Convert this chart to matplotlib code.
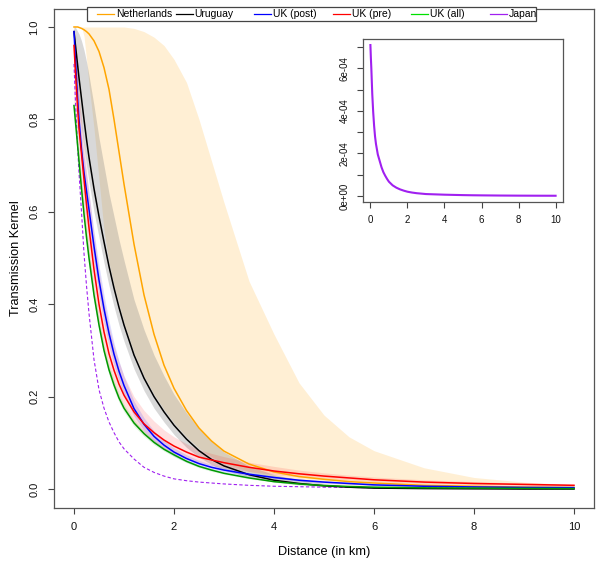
import matplotlib
matplotlib.use("Agg")
import matplotlib.pyplot as plt
from matplotlib.lines import Line2D
from matplotlib.patches import Rectangle

plt.rcParams['font.family'] = ['Liberation Sans', 'DejaVu Sans']

# ---------------- data ----------------
dist = [0, 0.025, 0.05, 0.075, 0.1, 0.15, 0.2, 0.25, 0.3, 0.4, 0.5, 0.6, 0.7, 0.8, 0.9,
        1.0, 1.2, 1.4, 1.6, 1.8, 2.0, 2.25, 2.5, 2.75, 3.0, 3.5, 4.0, 4.5, 5.0, 5.5,
        6.0, 7.0, 8.0, 9.0, 10.0]

netherlands = [1.0, 1.0, 1.0, 1.0, 0.999, 0.997, 0.994, 0.99, 0.985, 0.97, 0.947, 0.912,
               0.865, 0.80, 0.73, 0.66, 0.53, 0.42, 0.335, 0.268, 0.218, 0.17, 0.132,
               0.104, 0.082, 0.054, 0.037, 0.027, 0.021, 0.016, 0.013, 0.008, 0.006,
               0.004, 0.003]
netherlands_lo = [1.0, 1.0, 1.0, 1.0, 1.0, 1.0, 0.98, 0.93, 0.875, 0.78, 0.67, 0.56, 0.49,
                  0.44, 0.40, 0.36, 0.295, 0.245, 0.205, 0.172, 0.143, 0.113, 0.088, 0.07,
                  0.056, 0.038, 0.026, 0.018, 0.013, 0.009, 0.007, 0.004, 0.002, 0.001, 0.001]
netherlands_hi = [1.0, 1.0, 1.0, 1.0, 1.0, 1.0, 1.0, 1.0, 1.0, 1.0, 1.0, 1.0, 1.0, 1.0, 1.0,
                  1.0, 0.997, 0.99, 0.978, 0.96, 0.93, 0.88, 0.80, 0.71, 0.62, 0.45, 0.335,
                  0.23, 0.16, 0.113, 0.083, 0.046, 0.025, 0.015, 0.009]

uruguay = [0.99, 0.965, 0.94, 0.915, 0.89, 0.845, 0.80, 0.757, 0.718, 0.65, 0.59, 0.535,
           0.482, 0.435, 0.393, 0.355, 0.29, 0.24, 0.2, 0.167, 0.138, 0.108, 0.083, 0.064,
           0.05, 0.031, 0.019, 0.012, 0.007, 0.004, 0.002, 0.001, 0.0005, 0.0, 0.0]
uruguay_lo = [0.98, 0.93, 0.89, 0.86, 0.825, 0.78, 0.74, 0.70, 0.665, 0.60, 0.545, 0.49,
              0.44, 0.395, 0.355, 0.32, 0.26, 0.213, 0.175, 0.145, 0.118, 0.09, 0.069, 0.053,
              0.041, 0.025, 0.015, 0.009, 0.005, 0.003, 0.0015, 0.0005, 0.0, 0.0, 0.0]
uruguay_hi = [1.0, 1.0, 0.995, 0.99, 0.985, 0.97, 0.95, 0.925, 0.895, 0.83, 0.76, 0.70,
              0.64, 0.59, 0.54, 0.495, 0.41, 0.345, 0.29, 0.245, 0.205, 0.165, 0.13, 0.103,
              0.08, 0.05, 0.031, 0.02, 0.012, 0.007, 0.004, 0.002, 0.001, 0.0005, 0.0]

uk_post = [0.99, 0.935, 0.885, 0.84, 0.80, 0.735, 0.685, 0.645, 0.605, 0.525, 0.452, 0.39,
           0.337, 0.292, 0.255, 0.224, 0.174, 0.14, 0.114, 0.095, 0.08, 0.066, 0.055, 0.047,
           0.041, 0.032, 0.025, 0.019, 0.015, 0.012, 0.009, 0.006, 0.0045, 0.0035, 0.003]
uk_post_lo = [0.97, 0.905, 0.85, 0.805, 0.765, 0.70, 0.648, 0.605, 0.565, 0.49, 0.42, 0.36,
              0.31, 0.268, 0.233, 0.204, 0.158, 0.126, 0.102, 0.085, 0.071, 0.058, 0.048,
              0.041, 0.036, 0.028, 0.022, 0.017, 0.013, 0.01, 0.008, 0.005, 0.004, 0.003,
              0.0025]
uk_post_hi = [1.0, 0.96, 0.915, 0.872, 0.832, 0.768, 0.72, 0.68, 0.64, 0.558, 0.484, 0.42,
              0.364, 0.316, 0.277, 0.244, 0.19, 0.154, 0.126, 0.105, 0.089, 0.074, 0.062,
              0.053, 0.046, 0.036, 0.028, 0.022, 0.017, 0.014, 0.011, 0.007, 0.0055, 0.0042,
              0.0035]

uk_pre = [0.96, 0.91, 0.865, 0.82, 0.78, 0.725, 0.67, 0.615, 0.565, 0.475, 0.40, 0.34,
          0.293, 0.257, 0.227, 0.203, 0.167, 0.141, 0.122, 0.106, 0.093, 0.08, 0.069, 0.063,
          0.057, 0.047, 0.039, 0.033, 0.028, 0.024, 0.02, 0.015, 0.012, 0.01, 0.008]
uk_pre_lo = [0.85, 0.81, 0.775, 0.74, 0.705, 0.645, 0.59, 0.54, 0.495, 0.415, 0.35, 0.298,
             0.255, 0.222, 0.195, 0.173, 0.14, 0.117, 0.1, 0.087, 0.077, 0.066, 0.057, 0.051,
             0.046, 0.038, 0.031, 0.026, 0.022, 0.019, 0.016, 0.012, 0.0095, 0.008, 0.0065]
uk_pre_hi = [1.0, 0.97, 0.93, 0.89, 0.855, 0.8, 0.745, 0.69, 0.64, 0.55, 0.47, 0.405,
             0.352, 0.31, 0.275, 0.245, 0.2, 0.17, 0.147, 0.128, 0.113, 0.098, 0.085, 0.077,
             0.07, 0.058, 0.049, 0.041, 0.035, 0.03, 0.026, 0.02, 0.016, 0.013, 0.011]

uk_all = [0.83, 0.80, 0.77, 0.74, 0.71, 0.65, 0.595, 0.545, 0.50, 0.42, 0.355, 0.30,
          0.258, 0.225, 0.197, 0.175, 0.143, 0.12, 0.101, 0.086, 0.074, 0.06, 0.049, 0.041,
          0.034, 0.024, 0.016, 0.011, 0.0075, 0.0055, 0.004, 0.0025, 0.002, 0.0015, 0.001]
uk_all_lo = [0.81, 0.78, 0.75, 0.72, 0.69, 0.63, 0.575, 0.525, 0.482, 0.404, 0.341, 0.288,
             0.247, 0.215, 0.188, 0.167, 0.136, 0.114, 0.096, 0.082, 0.07, 0.057, 0.046,
             0.038, 0.032, 0.022, 0.015, 0.01, 0.007, 0.005, 0.0035, 0.002, 0.0015, 0.001,
             0.0008]
uk_all_hi = [0.85, 0.82, 0.79, 0.76, 0.73, 0.67, 0.615, 0.565, 0.518, 0.436, 0.369, 0.312,
             0.269, 0.235, 0.206, 0.183, 0.15, 0.126, 0.106, 0.09, 0.078, 0.063, 0.052,
             0.044, 0.036, 0.026, 0.017, 0.012, 0.008, 0.006, 0.0045, 0.003, 0.0025, 0.002,
             0.0012]

japan_scaled = [0.92, 0.85, 0.79, 0.735, 0.685, 0.60, 0.51, 0.44, 0.38, 0.28, 0.215, 0.175,
                0.145, 0.122, 0.102, 0.087, 0.065, 0.047, 0.036, 0.028, 0.022, 0.018, 0.015,
                0.013, 0.011, 0.008, 0.006, 0.005, 0.004, 0.0035, 0.003, 0.002, 0.0015,
                0.001, 0.001]
japan = [7.1e-4, 6.5e-4, 6.0e-4, 5.4e-4, 4.8e-4, 3.95e-4, 3.3e-4, 2.8e-4, 2.45e-4, 1.95e-4,
         1.65e-4, 1.35e-4, 1.12e-4, 0.95e-4, 0.8e-4, 0.67e-4, 0.5e-4, 0.39e-4, 0.31e-4,
         0.25e-4, 0.2e-4, 0.16e-4, 0.13e-4, 0.11e-4, 0.09e-4, 0.075e-4, 0.06e-4, 0.05e-4,
         0.04e-4, 0.033e-4, 0.028e-4, 0.02e-4, 0.015e-4, 0.012e-4, 0.01e-4]

legend_labels = ["Netherlands", "Uruguay", "UK (post)", "UK (pre)", "UK (all)", "Japan"]
legend_colors = ["#FFA500", "black", "blue", "red", "#00E000", "#A020F0"]

xticks = [0, 2, 4, 6, 8, 10]
yticks = [0.0, 0.2, 0.4, 0.6, 0.8, 1.0]
inset_yticks = [0, 1e-4, 2e-4, 3e-4, 4e-4, 5e-4, 6e-4, 7e-4]
inset_ylabels = ["0e+00", "", "2e-04", "", "4e-04", "", "6e-04", ""]

# ---------------- figure ----------------
W, H = 602, 566
fig = plt.figure(figsize=(W / 100, H / 100), dpi=100)
ax = fig.add_axes([54 / W, 1 - 507.5 / H, 540 / W, 499 / H])

ax.fill_between(dist, netherlands_lo, netherlands_hi, color="#FFA500", alpha=0.17, lw=0, zorder=1)
ax.fill_between(dist, uruguay_lo, uruguay_hi, color="#808080", alpha=0.30, lw=0, zorder=2)
ax.fill_between(dist, uk_pre_lo, uk_pre_hi, color="red", alpha=0.12, lw=0, zorder=2)
ax.fill_between(dist, uk_post_lo, uk_post_hi, color="blue", alpha=0.13, lw=0, zorder=2)
ax.fill_between(dist, uk_all_lo, uk_all_hi, color="#00C000", alpha=0.12, lw=0, zorder=2)

ax.plot(dist, japan_scaled, color="#A020F0", lw=0.8, ls=(0, (3, 2)), zorder=3)
ax.plot(dist, netherlands, color="#FFA500", lw=1.1, zorder=4)
ax.plot(dist, uruguay, color="black", lw=1.1, zorder=4)
ax.plot(dist, uk_post, color="blue", lw=1.1, zorder=4)
ax.plot(dist, uk_pre, color="red", lw=1.1, zorder=4)
ax.plot(dist, uk_all, color="#009A00", lw=1.1, zorder=4)

ax.set_xlim(-0.4, 10.4)
ax.set_ylim(-0.04, 1.04)
ax.set_xticks(xticks)
ax.set_xticklabels([str(t) for t in xticks])
ax.set_yticks(yticks)
ax.set_yticklabels(["%.1f" % t for t in yticks], rotation=90, va="center")
ax.tick_params(direction="out", length=4.5, width=0.8, color="#444444", labelcolor="#111111",
               labelsize=8, pad=6)
for s in ax.spines.values():
    s.set_color("#555555")
    s.set_linewidth(0.9)
ax.set_xlabel("Distance (in km)", fontsize=9.2, labelpad=10)
ax.set_ylabel("Transmission Kernel", fontsize=9.2, labelpad=5)

# legend box (horizontal, flush with top of plot)
tf = fig.transFigure
def fx(px):
    return px / W
def fy(py):
    return 1 - py / H
fig.patches.append(Rectangle((fx(87), fy(21)), fx(536) - fx(87), fy(7.5) - fy(21),
                             transform=tf, facecolor="white", edgecolor="#444444", lw=0.9, zorder=10))
x0 = 97
step = 78.6
for i, (lab, col) in enumerate(zip(legend_labels, legend_colors)):
    lx = x0 + i * step
    fig.lines.append(Line2D([fx(lx), fx(lx + 17)], [fy(14.3), fy(14.3)], transform=tf,
                            color=col, lw=0.9, zorder=11))
    fig.text(fx(lx + 19), fy(14.3), lab, fontsize=7.5, va="center", ha="left", zorder=11)

# inset
axi = fig.add_axes([363 / W, 1 - 202 / H, 200 / W, 163 / H])
axi.plot(dist, japan, color="#A020F0", lw=1.5)
axi.set_xlim(-0.4, 10.4)
axi.set_ylim(-0.284e-4, 7.384e-4)
axi.set_xticks(xticks)
axi.set_xticklabels([str(t) for t in xticks])
axi.set_yticks(inset_yticks)
axi.set_yticklabels(inset_ylabels, rotation=90, va="center")
axi.tick_params(direction="out", length=4.5, width=0.8, color="#444444", labelcolor="#111111",
                labelsize=7, pad=5)
for s in axi.spines.values():
    s.set_color("#555555")
    s.set_linewidth(0.9)

fig.savefig("out.png", dpi=100)
